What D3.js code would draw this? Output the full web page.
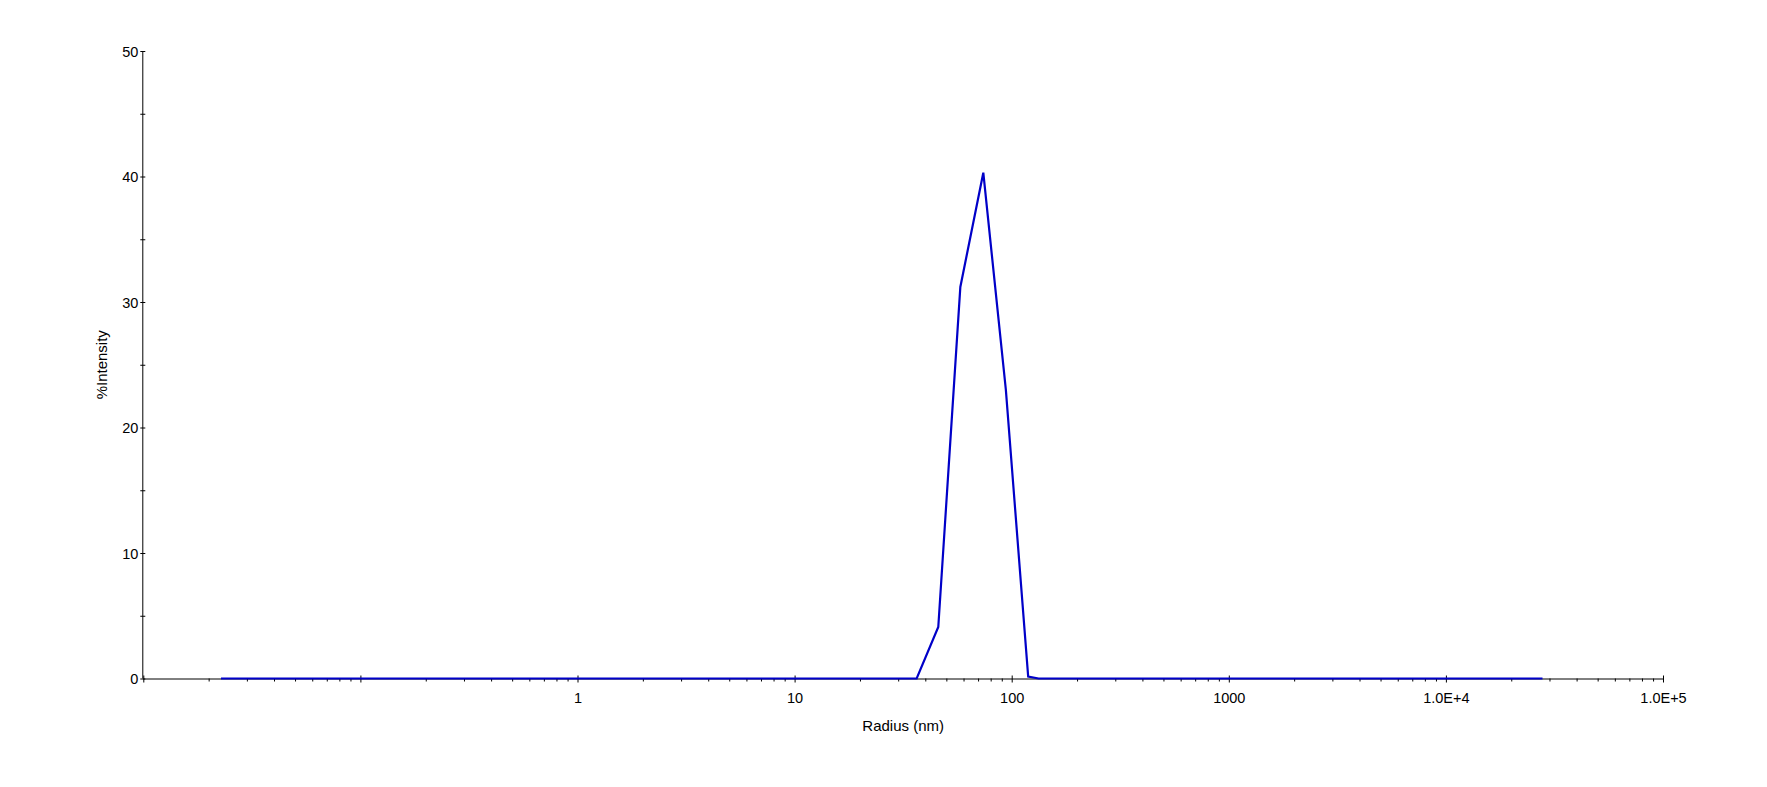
<!DOCTYPE html>
<html>
<head>
<meta charset="utf-8">
<script src="https://cdn.jsdelivr.net/npm/d3@7"></script>
<style>
  html, body { margin: 0; padding: 0; background: #fff; }
  svg { display: block; }
  text { font-family: "Liberation Sans", Arial, sans-serif; fill: #000; }
</style>
</head>
<body>
<svg id="chart" width="1767" height="787"></svg>
<script>
// ---- data ----
const radius    = [0.0228, 36.5, 45.9, 58.0, 74.0, 94.0, 119.1, 133, 27860];
const intensity = [0,      0,    4.1,  31.2, 40.3, 23.0, 0.15,  0,   0];

const xMajorTicks  = [0.01, 0.1, 1, 10, 100, 1000, 10000, 100000];
const xTickLabels  = ["", "", "1", "10", "100", "1000", "1.0E+4", "1.0E+5"];
const yMajorTicks  = [0, 10, 20, 30, 40, 50];
const yMinorTicks  = [5, 15, 25, 35, 45];
const xLabel = "Radius (nm)";
const yLabel = "%Intensity";

// ---- layout ----
const svg = d3.select("#chart");
const padL = 143.3, padR = 1663, padT = 51, padB = 678.5;

const x = d3.scaleLog().domain([0.01, 100000]).range([padL, padR]);
const y = d3.scaleLinear().domain([0, 50]).range([padB, padT]);

// minor x ticks: 2..9 within each decade
const xMinorTicks = [];
xMajorTicks.slice(0, -1).forEach(d => {
  [2,3,4,5,6,7,8,9].forEach(m => xMinorTicks.push(+(d * m).toPrecision(3)));
});

// ---- x axis ----
const xg = svg.append("g").attr("transform", `translate(0,${padB})`);
xg.call(d3.axisBottom(x).tickValues(xMinorTicks).tickSize(3).tickFormat(""))
  .call(g => g.select(".domain").remove());
xg.selectAll(".tick line").attr("stroke", "#000");
xg.selectAll("text").remove();

const xMaj = svg.append("g").attr("transform", `translate(0,${padB})`);
xMaj.call(d3.axisBottom(x).tickValues(xMajorTicks).tickSizeOuter(0)
      .tickFormat((d, i) => xTickLabels[i]))
  .call(g => g.select(".domain").attr("d", `M${padL},0.5H${padR}`).attr("stroke", "#000"));
xMaj.selectAll(".tick line").attr("y1", -3).attr("y2", 4).attr("stroke", "#000");
xMaj.selectAll(".tick text").attr("y", 24.8).attr("dy", 0)
  .style("font-size", "14.5px").style("font-family", "Liberation Sans, Arial, sans-serif").attr("fill", "#000");

// ---- y axis ----
const yg = svg.append("g").attr("transform", `translate(${padL},0)`);
yg.call(d3.axisLeft(y).tickValues(yMajorTicks.concat(yMinorTicks)).tickSizeOuter(0)
      .tickFormat(d => yMajorTicks.includes(d) ? String(d) : ""))
  .call(g => g.select(".domain").attr("d", `M-0.5,${padT}V${padB}`).attr("stroke", "#000"));
yg.selectAll(".tick line").attr("x1", 2).attr("x2", -3).attr("stroke", "#000");
yg.selectAll(".tick text").attr("x", -5).attr("dy", "0.36em")
  .style("font-size", "14.5px").style("font-family", "Liberation Sans, Arial, sans-serif").attr("fill", "#000");

// ---- axis titles ----
svg.append("text")
  .attr("x", (padL + padR) / 2).attr("y", 730.7)
  .attr("text-anchor", "middle")
  .style("font-size", "15px")
  .text(xLabel);
svg.append("text")
  .attr("transform", `translate(107.4,${(padT + padB) / 2}) rotate(-90)`)
  .attr("text-anchor", "middle")
  .style("font-size", "15px")
  .text(yLabel);

// ---- data line ----
const pts = radius.map((r, i) => [r, intensity[i]]);
svg.append("path")
  .datum(pts)
  .attr("fill", "none")
  .attr("stroke", "#0000c8")
  .attr("stroke-width", 2.2)
  .attr("stroke-linejoin", "miter")
  .attr("d", d3.line().x(d => x(d[0])).y(d => y(d[1])));
</script>
</body>
</html>
